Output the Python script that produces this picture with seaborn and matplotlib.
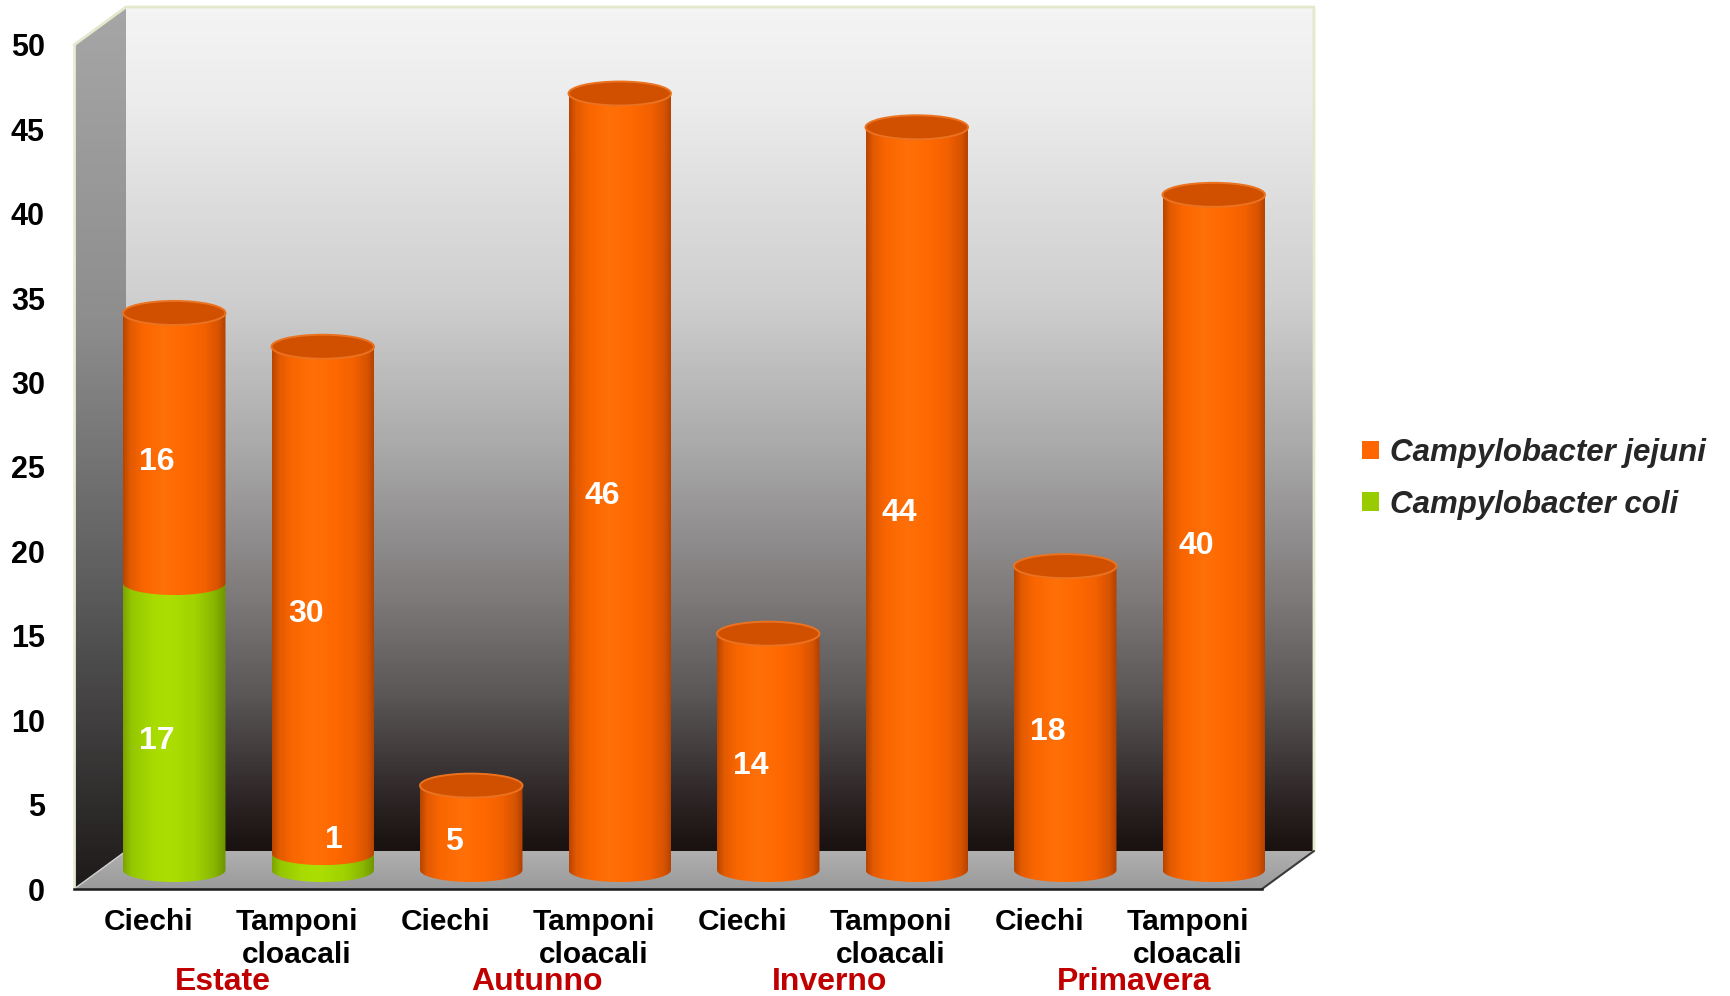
import numpy as np
import pandas as pd
import matplotlib
matplotlib.use("Agg")
import matplotlib.pyplot as plt
import seaborn as sns
from matplotlib.patches import Ellipse, Polygon, Patch
from matplotlib.colors import LinearSegmentedColormap
from matplotlib.transforms import ScaledTranslation

# ---- data -------------------------------------------------------------
seasons = ["Estate", "Autunno", "Inverno", "Primavera"]
samples = ["Ciechi", "Tamponi\ncloacali"]
jejuni = [16, 30, 5, 46, 14, 44, 18, 40]
coli = [17, 1, 0, 0, 0, 0, 0, 0]
series_names = ["Campylobacter jejuni", "Campylobacter coli"]
y_ticks = [0, 5, 10, 15, 20, 25, 30, 35, 40, 45, 50]

ORANGE = "#ff6600"
GREEN = "#99cc00"
SEASON_RED = "#c00000"

sns.set_theme(style="white")
plt.rcParams["font.family"] = ["Liberation Sans", "DejaVu Sans"]
plt.rcParams["font.weight"] = "bold"

# ---- figure geometry (pixels) -----------------------------------------
W, H, DPI = 1731, 996, 100
X0, X1 = 74, 1262          # front plane, x = -0.5 .. 7.5
Y0, YTOP = 889, 45         # front plane, value 0 .. 50
DX, DY = 52, 38            # depth of the 3-D box
NCAT = len(jejuni)
PX_X = (X1 - X0) / NCAT
PX_Y = (Y0 - YTOP) / 50.0
BAR_W = 0.69               # cylinder width in category units
EH = 24 / PX_Y             # ellipse height in value units


def axes_rect(xoff, yoff, vmin, vmax):
    bottom_px = Y0 - yoff - vmin * PX_Y
    top_px = Y0 - yoff - vmax * PX_Y
    return [(X0 + xoff) / W, 1 - bottom_px / H, (X1 - X0) / W, (bottom_px - top_px) / H]


fig = plt.figure(figsize=(W / DPI, H / DPI), dpi=DPI)
fig.patch.set_facecolor("white")

# ---- walls and floor of the box ---------------------------------------
bg = fig.add_axes([0, 0, 1, 1], zorder=0)
bg.set_xlim(0, W)
bg.set_ylim(H, 0)
bg.axis("off")


def gradient_poly(ax, pts, stops, extent, z):
    cmap = LinearSegmentedColormap.from_list("wall", stops)
    arr = np.linspace(0, 1, 256).reshape(-1, 1)
    im = ax.imshow(arr, cmap=cmap, extent=extent, aspect="auto", origin="upper",
                   interpolation="bilinear", zorder=z)
    poly = Polygon(pts, closed=True, facecolor="none", edgecolor="none")
    ax.add_patch(poly)
    im.set_clip_path(poly)
    return im


bx0, bx1 = X0 + DX, X1 + DX
by_top, by_bot = YTOP - DY, Y0 - DY
back_stops = [(0, "#f4f4f4"), (0.11, "#ececec"), (0.35, "#cecece"), (0.52, "#aaaaaa"),
              (0.7, "#7e7a7a"), (0.82, "#5a5656"), (0.94, "#2e2626"), (1, "#1a1210")]
gradient_poly(bg, [(bx0, by_top), (bx1, by_top), (bx1, by_bot), (bx0, by_bot)],
              back_stops, (bx0, bx1, by_bot, by_top), 1)
side_stops = [(0, "#a6a6a6"), (0.35, "#8e8e8e"), (0.65, "#5e5e5e"), (1, "#1e1a1a")]
gradient_poly(bg, [(X0, YTOP), (bx0, by_top), (bx0, by_bot), (X0, Y0)],
              side_stops, (X0, bx0, Y0, by_top), 1)
floor_stops = [(0, "#b0b0b0"), (1, "#9a9a9a")]
gradient_poly(bg, [(X0, Y0), (X1, Y0), (bx1, by_bot), (bx0, by_bot)],
              floor_stops, (X0, bx1, Y0, by_bot), 1)

bg.plot([X0, bx0, bx1, bx1], [YTOP, by_top, by_top, by_bot], color="#e4e8cc", lw=2, zorder=2)
bg.plot([X0, X0], [YTOP, Y0], color="#e8ead8", lw=2, zorder=2)
bg.plot([X1, bx1], [Y0, by_bot], color="#3a3a3a", lw=1.5, zorder=2)
bg.plot([X0, bx0], [Y0, by_bot], color="#d0d0d0", lw=1, zorder=2)

# ---- cylinders (mid-depth plane) --------------------------------------
axm = fig.add_axes(axes_rect(DX / 2, DY / 2, -3, 50), zorder=2)
keys = [f"{s} {c}" for s in seasons for c in samples]
df = pd.DataFrame({"campione": keys, "jejuni": jejuni, "coli": coli})
df["totale"] = df["jejuni"] + df["coli"]

sns.barplot(data=df, x="campione", y="totale", order=keys, color=ORANGE, saturation=1,
            width=BAR_W, errorbar=None, linewidth=0, ax=axm)
sns.barplot(data=df, x="campione", y="coli", order=keys, color=GREEN, saturation=1,
            width=BAR_W, errorbar=None, linewidth=0, ax=axm)

bars_total = axm.patches[:NCAT]
bars_coli = axm.patches[NCAT:2 * NCAT]

orange_profile = [(0, "#b84400"), (0.07, "#e25a00"), (0.2, "#fa6600"), (0.4, "#ff7008"),
                  (0.62, "#ff6800"), (0.8, "#f26000"), (0.93, "#d65300"), (1, "#b04000")]
green_profile = [(0, "#7ca400"), (0.08, "#94c600"), (0.3, "#a8dc00"), (0.45, "#acdf00"),
                 (0.7, "#a0d300"), (0.88, "#8ab800"), (1, "#6e9400")]


def cylinder_body(ax, xl, w, y0, y1, profile, z):
    a, b = w / 2, EH / 2
    xc = xl + a
    th = np.linspace(np.pi, 2 * np.pi, 80)
    arc = np.column_stack([xc + a * np.cos(th), y0 + b * np.sin(th)])
    verts = np.vstack([[[xl, y1]], arc, [[xl + w, y1]]])
    poly = Polygon(verts, closed=True, facecolor="none", edgecolor="none")
    ax.add_patch(poly)
    cmap = LinearSegmentedColormap.from_list("cyl", profile)
    im = ax.imshow(np.linspace(0, 1, 256).reshape(1, -1), cmap=cmap,
                   extent=(xl, xl + w, y0 - b, y1), aspect="auto", origin="lower",
                   interpolation="bilinear", zorder=z)
    im.set_clip_path(poly)


label_shift = ScaledTranslation(-17 / DPI, -14 / DPI, fig.dpi_scale_trans)
label_tr = axm.transData + label_shift
small_tr = axm.transData + ScaledTranslation(11 / DPI, -11 / DPI, fig.dpi_scale_trans)
VAL_FS = 23

for i in range(NCAT):
    pt, pc = bars_total[i], bars_coli[i]
    xl, w = pt.get_x(), pt.get_width()
    top, c = pt.get_height(), pc.get_height()
    pc.set_visible(False)
    pt.set_visible(False)
    if c > 0:
        cylinder_body(axm, xl, w, 0, c, green_profile, 3)
    cylinder_body(axm, xl, w, c, top, orange_profile, 4)
    axm.add_patch(Ellipse((xl + w / 2, top), w, EH, facecolor="#d05000",
                          edgecolor="#ea7220", lw=1.4, zorder=5))

    xc = xl + w / 2
    if c > 0:
        if c >= 3:
            axm.text(xc, c / 2, f"{c:g}", transform=label_tr, color="white",
                     fontsize=VAL_FS, fontweight="bold", ha="center", va="center", zorder=6)
        else:
            axm.text(xc, c + 1.4, f"{c:g}", transform=small_tr, color="white",
                     fontsize=VAL_FS, fontweight="bold", ha="center", va="center", zorder=6)
    axm.text(xc, c + (top - c) / 2, f"{top - c:g}", transform=label_tr, color="white",
             fontsize=VAL_FS, fontweight="bold", ha="center", va="center", zorder=6)

axm.set_xlim(-0.5, NCAT - 0.5)
axm.set_ylim(-3, 50)
axm.axis("off")

# ---- front plane: axis line, ticks, labels ----------------------------
ax = fig.add_axes(axes_rect(0, 0, 0, 50), zorder=3)
ax.set_xlim(-0.5, NCAT - 0.5)
ax.set_ylim(0, 50)
ax.patch.set_alpha(0)
for side in ("top", "right", "left"):
    ax.spines[side].set_visible(False)
ax.spines["bottom"].set_color("#1a1a1a")
ax.spines["bottom"].set_linewidth(1.8)

ax.set_yticks(y_ticks)
ax.set_yticklabels([str(v) for v in y_ticks], fontsize=22, fontweight="bold")
ax.tick_params(axis="y", length=0, pad=21, colors="black")

ax.set_xticks(range(NCAT))
ax.set_xticklabels(samples * len(seasons), fontsize=21.5, fontweight="bold",
                   linespacing=1.2)
ax.tick_params(axis="x", which="major", length=0, pad=14, colors="black")
ax.set_xticks([-0.5 + 2 * k for k in range(len(seasons) + 1)], minor=True)
ax.tick_params(axis="x", which="minor", length=15, width=1.5, direction="inout",
               color="#1a1a1a")
ax.grid(False)

season_nudge = [0.0, 0.12, 0.09, 0.14]
season_y = (Y0 - 982) / PX_Y
for k, s in enumerate(seasons):
    ax.text(2 * k + 0.5 + season_nudge[k], season_y, s, color=SEASON_RED,
            fontsize=23, fontweight="bold", ha="center", va="center", clip_on=False,
            family=["Liberation Sans Narrow", "Liberation Sans", "DejaVu Sans"])

# ---- legend -----------------------------------------------------------
handles = [Patch(facecolor=ORANGE, edgecolor="none"), Patch(facecolor=GREEN, edgecolor="none")]
fig.legend(handles, series_names, loc="center left",
           bbox_to_anchor=(1362 / W, 1 - 479 / H), frameon=False,
           prop=dict(size=22.5, weight="bold", style="italic"),
           handlelength=0.55, handleheight=0.55, handletextpad=0.35,
           labelspacing=0.7, borderpad=0, borderaxespad=0)

fig.savefig("out.png", dpi=DPI, facecolor="white")
